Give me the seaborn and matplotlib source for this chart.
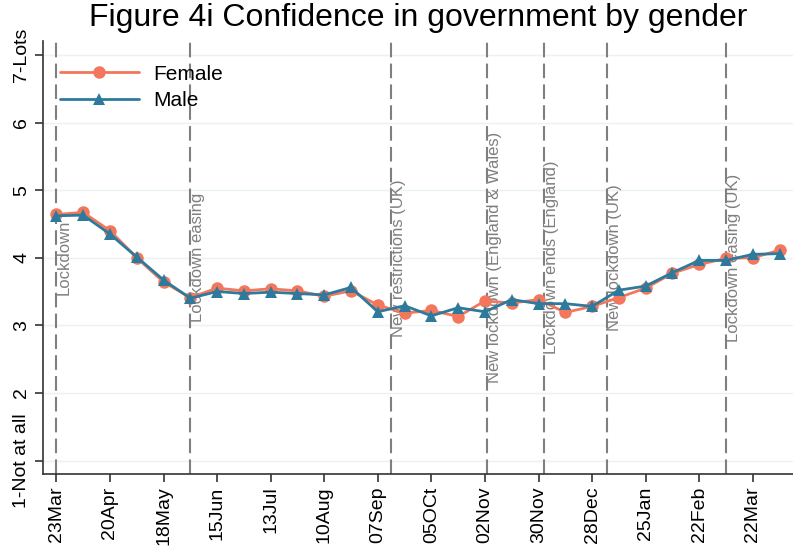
import pandas as pd
import numpy as np
import matplotlib
matplotlib.use("Agg")
import matplotlib.pyplot as plt
import seaborn as sns

# ---------------------------
# DATA
# ---------------------------
dates = pd.date_range("2020-03-23", periods=28, freq="14D")

female = [4.64, 4.67, 4.40, 4.00, 3.64, 3.41, 3.55, 3.51, 3.54, 3.51,
          3.43, 3.51, 3.30, 3.18, 3.22, 3.13, 3.36, 3.33, 3.38, 3.19,
          3.28, 3.41, 3.55, 3.77, 3.90, 3.99, 4.00, 4.11]
male = [4.62, 4.63, 4.35, 4.01, 3.67, 3.40, 3.50, 3.47, 3.49, 3.47,
        3.45, 3.56, 3.20, 3.29, 3.14, 3.26, 3.20, 3.38, 3.32, 3.32,
        3.28, 3.52, 3.58, 3.78, 3.96, 3.96, 4.05, 4.06]

event_dates = ["2020-03-23", "2020-06-01", "2020-09-14", "2020-11-03",
               "2020-12-03", "2021-01-05", "2021-03-08"]
event_labels = ["Lockdown", "Lockdown easing", "New restrictions (UK)",
                "New lockdown (England & Wales)", "Lockdown ends (England)",
                "New lockdown (UK)", "Lockdown easing (UK)"]

tick_dates = pd.date_range("2020-03-23", periods=14, freq="28D")
tick_labels = ["23Mar", "20Apr", "18May", "15Jun", "13Jul", "10Aug", "07Sep",
               "05OCt", "02Nov", "30Nov", "28Dec", "25Jan", "22Feb", "22Mar"]

y_ticks = [1, 2, 3, 4, 5, 6, 7]
y_labels = ["1-Not at all", "2", "3", "4", "5", "6", "7-Lots"]

df = pd.DataFrame({"date": list(dates) * 2,
                   "value": female + male,
                   "gender": ["Female"] * 28 + ["Male"] * 28})

# ---------------------------
# PLOT
# ---------------------------
sns.set_style("white")
plt.rcParams["font.family"] = ["Liberation Sans", "DejaVu Sans"]
plt.rcParams["text.color"] = "black"
plt.rcParams["xtick.color"] = "black"
plt.rcParams["ytick.color"] = "black"

fig = plt.figure(figsize=(7.93, 5.51), dpi=100)
ax = fig.add_axes([0.0542, 0.1397, 0.9458, 0.7852])

for y in y_ticks:
    ax.axhline(y, color="#eaf2f3", lw=1, zorder=0)

for d, lab in zip(event_dates, event_labels):
    d = pd.Timestamp(d)
    ax.axvline(d, color="#7f7f7f", lw=1.5, ls=(0, (7, 3)), zorder=1)
    ax.text(d, 4, lab, rotation=90, ha="left", va="center",
            color="#7f7f7f", fontsize=12, zorder=2)

sns.lineplot(data=df, x="date", y="value", hue="gender", style="gender",
             markers={"Female": "o", "Male": "^"}, dashes=False,
             palette={"Female": "#f3775c", "Male": "#2d7a9c"},
             lw=2, markersize=9, markeredgewidth=0, ax=ax, zorder=3)

ax.set_xlim(pd.Timestamp("2020-03-16"), pd.Timestamp("2021-04-12"))
ax.set_ylim(0.8, 7.2)
ax.set_xticks(tick_dates)
ax.set_xticklabels(tick_labels, rotation=90, fontsize=14)
ax.set_yticks(y_ticks)
ax.set_yticklabels(y_labels, rotation=90, va="center", fontsize=14)
ax.tick_params(axis="both", length=6, width=1.2, color="#333333",
               direction="out", bottom=True, left=True, pad=3)
ax.set_xlabel("")
ax.set_ylabel("")

for s in ["top", "right"]:
    ax.spines[s].set_visible(False)
for s in ["left", "bottom"]:
    ax.spines[s].set_color("#333333")
    ax.spines[s].set_linewidth(1.2)

leg = ax.legend(loc="upper left", bbox_to_anchor=(0.003, 0.98), frameon=False,
                fontsize=15, handlelength=3.8, labelspacing=0.35,
                handletextpad=0.7, borderaxespad=0.3)

fig.suptitle("Figure 4i Confidence in government by gender",
             x=0.527, y=0.995, fontsize=23, color="black")

plt.savefig("out.png", dpi=100)
